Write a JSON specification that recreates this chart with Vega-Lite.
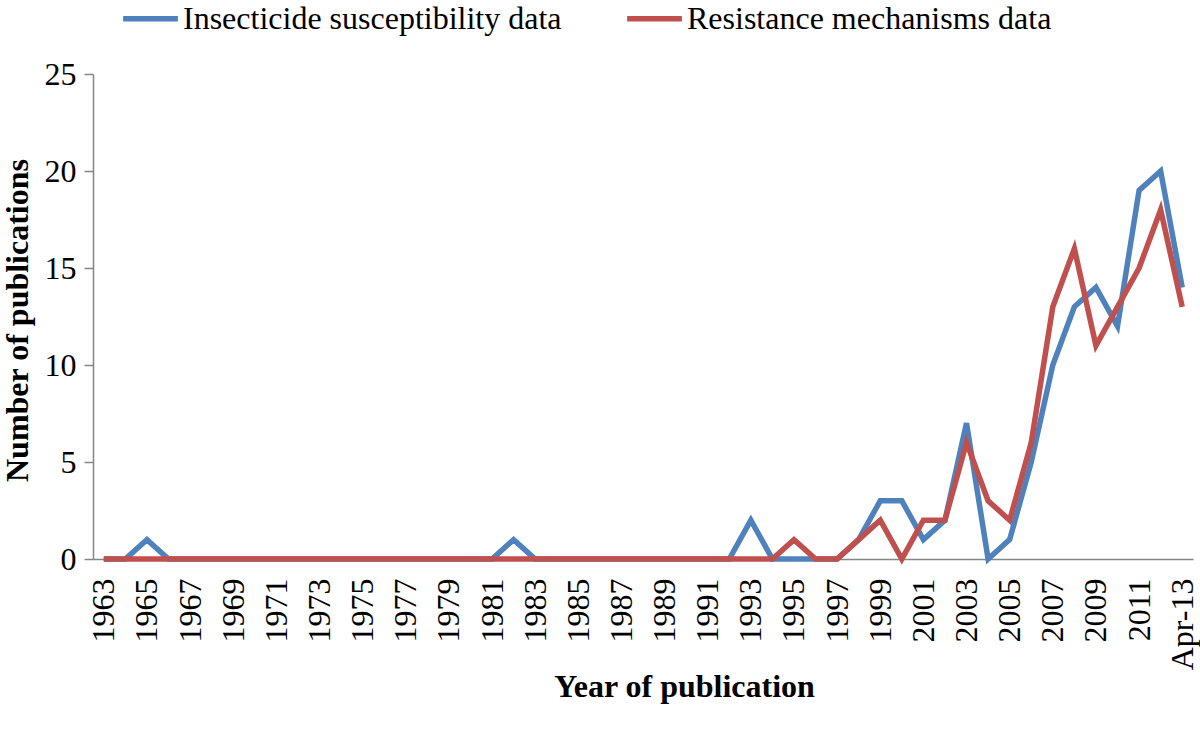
{
  "$schema": "https://vega.github.io/schema/vega-lite/v6.json",
  "autosize": {"type": "none"},
  "width": 1100,
  "height": 485,
  "padding": {"left": 93, "top": 74, "right": 7, "bottom": 170},
  "background": "white",
  "config": {
    "font": "Liberation Serif",
    "view": {"stroke": null},
    "axis": {"grid": false, "domainColor": "#868686", "domainWidth": 1.5, "tickColor": "#868686", "tickWidth": 1.5, "labelColor": "black", "titleColor": "black", "labelFont": "Liberation Serif", "titleFont": "Liberation Serif"}
  },
  "data": {
    "values": [
      {"Year": "1963", "ins": 0, "res": 0},
      {"Year": "1964", "ins": 0, "res": 0},
      {"Year": "1965", "ins": 1, "res": 0},
      {"Year": "1966", "ins": 0, "res": 0},
      {"Year": "1967", "ins": 0, "res": 0},
      {"Year": "1968", "ins": 0, "res": 0},
      {"Year": "1969", "ins": 0, "res": 0},
      {"Year": "1970", "ins": 0, "res": 0},
      {"Year": "1971", "ins": 0, "res": 0},
      {"Year": "1972", "ins": 0, "res": 0},
      {"Year": "1973", "ins": 0, "res": 0},
      {"Year": "1974", "ins": 0, "res": 0},
      {"Year": "1975", "ins": 0, "res": 0},
      {"Year": "1976", "ins": 0, "res": 0},
      {"Year": "1977", "ins": 0, "res": 0},
      {"Year": "1978", "ins": 0, "res": 0},
      {"Year": "1979", "ins": 0, "res": 0},
      {"Year": "1980", "ins": 0, "res": 0},
      {"Year": "1981", "ins": 0, "res": 0},
      {"Year": "1982", "ins": 1, "res": 0},
      {"Year": "1983", "ins": 0, "res": 0},
      {"Year": "1984", "ins": 0, "res": 0},
      {"Year": "1985", "ins": 0, "res": 0},
      {"Year": "1986", "ins": 0, "res": 0},
      {"Year": "1987", "ins": 0, "res": 0},
      {"Year": "1988", "ins": 0, "res": 0},
      {"Year": "1989", "ins": 0, "res": 0},
      {"Year": "1990", "ins": 0, "res": 0},
      {"Year": "1991", "ins": 0, "res": 0},
      {"Year": "1992", "ins": 0, "res": 0},
      {"Year": "1993", "ins": 2, "res": 0},
      {"Year": "1994", "ins": 0, "res": 0},
      {"Year": "1995", "ins": 0, "res": 1},
      {"Year": "1996", "ins": 0, "res": 0},
      {"Year": "1997", "ins": 0, "res": 0},
      {"Year": "1998", "ins": 1, "res": 1},
      {"Year": "1999", "ins": 3, "res": 2},
      {"Year": "2000", "ins": 3, "res": 0},
      {"Year": "2001", "ins": 1, "res": 2},
      {"Year": "2002", "ins": 2, "res": 2},
      {"Year": "2003", "ins": 7, "res": 6},
      {"Year": "2004", "ins": 0, "res": 3},
      {"Year": "2005", "ins": 1, "res": 2},
      {"Year": "2006", "ins": 5, "res": 6},
      {"Year": "2007", "ins": 10, "res": 13},
      {"Year": "2008", "ins": 13, "res": 16},
      {"Year": "2009", "ins": 14, "res": 11},
      {"Year": "2010", "ins": 12, "res": 13},
      {"Year": "2011", "ins": 19, "res": 15},
      {"Year": "2012", "ins": 20, "res": 18},
      {"Year": "Apr-13", "ins": 14, "res": 13}
    ]
  },
  "transform": [
    {"fold": ["ins", "res"], "as": ["key", "Count"]}
  ],
  "mark": {"type": "line", "strokeWidth": 5.5},
  "encoding": {
    "x": {
      "field": "Year",
      "type": "ordinal",
      "sort": null,
      "scale": {"type": "point", "padding": 0.5},
      "axis": {
        "title": "Year of publication",
        "titleFontSize": 32,
        "titleFontWeight": "bold",
        "titleX": 591,
        "titleY": 137,
        "titleAlign": "center",
        "titleBaseline": "alphabetic",
        "labelAngle": -90,
        "labelFontSize": 32,
        "labelPadding": 19,
        "ticks": false,
        "labelOverlap": false,
        "values": ["1963","1965","1967","1969","1971","1973","1975","1977","1979","1981","1983","1985","1987","1989","1991","1993","1995","1997","1999","2001","2003","2005","2007","2009","2011","Apr-13"]
      }
    },
    "y": {
      "field": "Count",
      "type": "quantitative",
      "scale": {"domain": [0, 25], "nice": false},
      "axis": {
        "title": "Number of publications",
        "titleFontSize": 32,
        "titleFontWeight": "bold",
        "titleAngle": -90,
        "titleX": -76,
        "titleY": 246,
        "titleAlign": "center",
        "titleBaseline": "middle",
        "values": [0, 5, 10, 15, 20, 25],
        "labelFontSize": 32,
        "labelPadding": 8,
        "tickSize": 9
      }
    },
    "color": {
      "field": "key",
      "type": "nominal",
      "scale": {"domain": ["ins", "res"], "range": ["#4F81BD", "#C0504D"]},
      "legend": {
        "title": null,
        "orient": "none",
        "direction": "horizontal",
        "legendX": 27,
        "legendY": -86,
        "symbolType": "stroke",
        "symbolSize": 3000,
        "symbolStrokeWidth": 5.5,
        "labelFontSize": 32,
        "labelFont": "Liberation Serif",
        "labelColor": "black",
        "labelOffset": 2,
        "columnPadding": 54,
        "labelExpr": "datum.value == 'ins' ? 'Insecticide susceptibility data' : 'Resistance mechanisms data'",
        "labelLimit": 700
      }
    }
  }
}
